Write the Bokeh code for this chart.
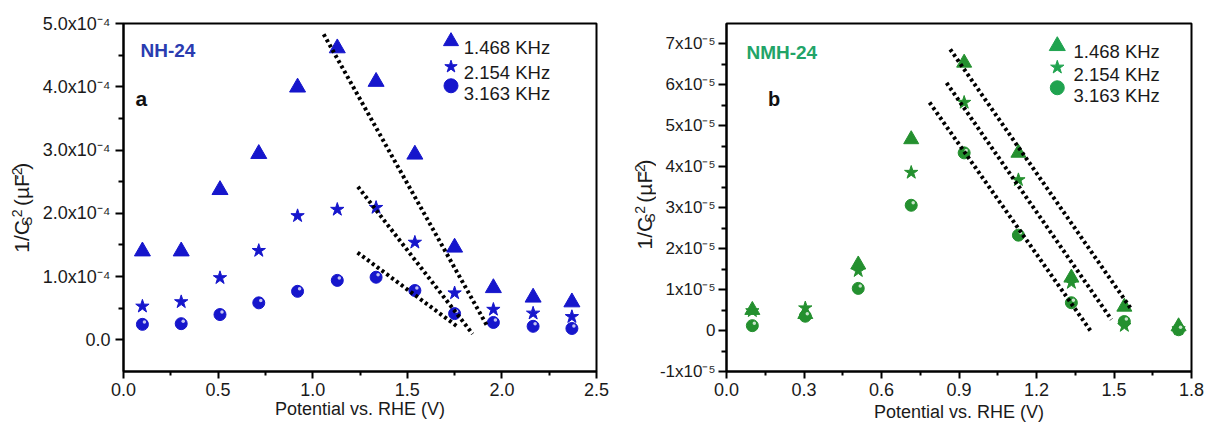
import math
from bokeh.plotting import figure
from bokeh.layouts import row
from bokeh.models import Range1d, FixedTicker, Label, CustomJSTickFormatter
from bokeh.embed import file_html
from bokeh.resources import INLINE

# ---------------- data ----------------
potential = [0.10, 0.305, 0.51, 0.715, 0.92, 1.13, 1.335, 1.54, 1.75, 1.955, 2.165, 2.37]

# panel a : NH-24
nh_1468 = [1.40e-4, 1.40e-4, 2.37e-4, 2.94e-4, 3.99e-4, 4.61e-4, 4.08e-4, 2.93e-4, 1.46e-4, 0.82e-4, 0.67e-4, 0.595e-4]
nh_2154 = [0.53e-4, 0.60e-4, 0.98e-4, 1.41e-4, 1.96e-4, 2.06e-4, 2.09e-4, 1.54e-4, 0.74e-4, 0.48e-4, 0.42e-4, 0.365e-4]
nh_3163 = [0.245e-4, 0.256e-4, 0.40e-4, 0.585e-4, 0.767e-4, 0.94e-4, 0.99e-4, 0.78e-4, 0.415e-4, 0.275e-4, 0.214e-4, 0.18e-4]

# panel b : NMH-24
potential_b = potential[:9]
nmh_1468 = [0.50e-5, 0.40e-5, 1.61e-5, 4.67e-5, 6.54e-5, 4.34e-5, 1.29e-5, 0.58e-5, 0.10e-5]
nmh_2154 = [0.48e-5, 0.55e-5, 1.46e-5, 3.86e-5, 5.57e-5, 3.68e-5, 1.17e-5, 0.12e-5, 0.04e-5]
nmh_3163 = [0.12e-5, 0.35e-5, 1.03e-5, 3.06e-5, 4.34e-5, 2.33e-5, 0.68e-5, 0.22e-5, 0.02e-5]

# Mott-Schottky fit lines (start/end)
fit_a_x0 = [1.058, 1.239, 1.237]
fit_a_y0 = [4.83e-4, 2.42e-4, 1.38e-4]
fit_a_x1 = [1.924, 1.845, 1.765]
fit_a_y1 = [0.21e-4, 0.094e-4, 0.21e-4]

fit_b_x0 = [0.866, 0.852, 0.786]
fit_b_y0 = [6.87e-5, 6.05e-5, 5.57e-5]
fit_b_x1 = [1.565, 1.490, 1.413]
fit_b_y1 = [0.54e-5, 0.27e-5, -0.04e-5]

freq_labels = ["1.468 KHz", "2.154 KHz", "3.163 KHz"]
x_title = "Potential vs. RHE (V)"

x_ticks_a = [0.0, 0.5, 1.0, 1.5, 2.0, 2.5]
x_tick_labels_a = ["0.0", "0.5", "1.0", "1.5", "2.0", "2.5"]
x_minor_a = [0.25, 0.75, 1.25, 1.75, 2.25]
y_ticks_a = [0.0, 1e-4, 2e-4, 3e-4, 4e-4, 5e-4]
y_tick_labels_a = ["0.0", "1.0x10\u207b\u2074", "2.0x10\u207b\u2074", "3.0x10\u207b\u2074",
                   "4.0x10\u207b\u2074", "5.0x10\u207b\u2074"]
y_minor_a = [0.5e-4, 1.5e-4, 2.5e-4, 3.5e-4, 4.5e-4]

x_ticks_b = [0.0, 0.3, 0.6, 0.9, 1.2, 1.5, 1.8]
x_tick_labels_b = ["0.0", "0.3", "0.6", "0.9", "1.2", "1.5", "1.8"]
x_minor_b = [0.15, 0.45, 0.75, 1.05, 1.35, 1.65]
y_ticks_b = [-1e-5, 0.0, 1e-5, 2e-5, 3e-5, 4e-5, 5e-5, 6e-5, 7e-5]
y_tick_labels_b = ["-1x10\u207b\u2075", "0", "1x10\u207b\u2075", "2x10\u207b\u2075", "3x10\u207b\u2075",
                   "4x10\u207b\u2075", "5x10\u207b\u2075", "6x10\u207b\u2075", "7x10\u207b\u2075"]
y_minor_b = [-0.5e-5, 0.5e-5, 1.5e-5, 2.5e-5, 3.5e-5, 4.5e-5, 5.5e-5, 6.5e-5]

# y-axis title pieces: (text, font px, baseline shift px; + = lowered, - = raised)
y_title_pieces = [("1/C", 21, 0), ("S", 14, 2.5), ("_gap", 1.5, 0), ("2", 14, -7.5), (" ", 21, 0),
                  ("(µF", 21, 0), ("-2", 14, -7.5), (")", 21, 0)]

FONT = "Liberation Sans"
TXT = "#1a1a1a"
BLUE = "#1616cc"
GREEN = "#24902f"
GREEN_LEG = "#1fa34f"
PAGE_H = 425

ARIAL = {c: 556 for c in "0123456789"}
ARIAL.update({'.': 278, 'x': 500, '-': 333, '/': 278, 'C': 722, 'S': 667, ' ': 278,
              '(': 333, ')': 333, 'µ': 576, 'F': 611})


def tw(s, size):
    return sum(ARIAL.get(c, 556) for c in s) * size / 1000.0


class Geom:
    """Frame geometry in page pixels; ox = page x of the figure's left edge."""
    def __init__(self, ox, W, H, L, R, T, B, xr, yr):
        self.ox, self.W, self.H, self.L, self.R, self.T, self.B = ox, W, H, L, R, T, B
        self.xr, self.yr = xr, yr

    def x(self, px):
        return self.xr[0] + (px - self.L) / (self.R - self.L) * (self.xr[1] - self.xr[0])

    def y(self, py):
        return self.yr[1] - (py - self.T) / (self.B - self.T) * (self.yr[1] - self.yr[0])

    def dx(self, dpx):
        return dpx / (self.R - self.L) * (self.xr[1] - self.xr[0])

    def dy(self, dpy):
        return dpy / (self.B - self.T) * (self.yr[1] - self.yr[0])


def tick_fmt(tvals, tlabels):
    return CustomJSTickFormatter(args=dict(tvals=tvals, tlabels=tlabels), code="""
        let best = -1, bd = Infinity;
        for (let i = 0; i < tvals.length; i++) {
            const d = Math.abs(tvals[i] - tick);
            if (d < bd) { bd = d; best = i; }
        }
        const scale = Math.max(Math.abs(tvals[tvals.length - 1]), Math.abs(tvals[0]), 1e-30);
        return (best >= 0 && bd <= 1e-6 * scale) ? tlabels[best] : '';
    """)


def make_fig(g, xt, xl, xm, yt, yl, ym, ylab_size, ylab_standoff, xlab_standoff):
    p = figure(width=g.W, height=g.H, x_range=Range1d(*g.xr), y_range=Range1d(*g.yr),
               output_backend="svg", toolbar_location=None,
               min_border_left=g.L - g.ox, min_border_right=g.ox + g.W - g.R,
               min_border_top=g.T, min_border_bottom=g.H - g.B)
    p.xgrid.visible = False
    p.ygrid.visible = False
    p.outline_line_color = "black"
    p.outline_line_width = 2
    p.outline_line_alpha = 1
    p.background_fill_color = "white"
    p.border_fill_color = "white"
    for ax in (p.xaxis[0], p.yaxis[0]):
        ax.axis_line_width = 2
        ax.axis_line_color = "black"
        ax.major_tick_line_width = 2
        ax.minor_tick_line_width = 2
        ax.major_tick_line_color = "black"
        ax.minor_tick_line_color = "black"
        ax.major_tick_in = 0
        ax.minor_tick_in = 0
        ax.major_label_text_font = FONT
        ax.major_label_text_color = TXT
    p.xaxis.major_tick_out = 7
    p.xaxis.minor_tick_out = 4
    p.yaxis.major_tick_out = 8
    p.yaxis.minor_tick_out = 5
    p.xaxis.ticker = FixedTicker(ticks=xt, minor_ticks=xm)
    p.yaxis.ticker = FixedTicker(ticks=yt, minor_ticks=ym)
    p.xaxis.formatter = tick_fmt(xt, xl)
    p.yaxis.formatter = tick_fmt(yt, yl)
    p.xaxis.major_label_text_font_size = "18px"
    p.xaxis.major_label_standoff = 4
    p.yaxis.major_label_text_font_size = ylab_size
    p.yaxis.major_label_standoff = ylab_standoff
    p.xaxis.axis_label = x_title
    p.xaxis.axis_label_text_font = FONT
    p.xaxis.axis_label_text_font_size = "18px"
    p.xaxis.axis_label_text_font_style = "normal"
    p.xaxis.axis_label_text_color = TXT
    p.xaxis.axis_label_standoff = xlab_standoff
    return p


def lab(p, g, px, py, text, size, color=TXT, align="left", style="normal", angle=0.0):
    p.add_layout(Label(x=g.x(px), y=g.y(py), text=text, text_font=FONT,
                       text_font_size=f"{size}px", text_color=color, text_align=align,
                       text_baseline="alphabetic", text_font_style=style, angle=angle))


def title_strip(W, xb, start_py):
    """A narrow figure (whole canvas = frame) holding the rotated y-axis title.
    xb = x of the main text baseline; glyphs are centred with text_baseline='middle'."""
    s = figure(width=W, height=PAGE_H, x_range=Range1d(0, W), y_range=Range1d(0, PAGE_H),
               output_backend="svg", toolbar_location=None, min_border=0,
               x_axis_location=None, y_axis_location=None)
    s.xgrid.visible = False
    s.ygrid.visible = False
    s.outline_line_color = None
    s.background_fill_color = "white"
    s.border_fill_color = "white"
    py = start_py
    for t, sz, shift in y_title_pieces:
        if t == "_gap":
            py -= sz
            continue
        if t.strip():
            ax = xb + shift - 0.35 * sz
            s.add_layout(Label(x=ax, y=PAGE_H - py, text=t, text_font=FONT,
                               text_font_size=f"{sz}px", text_color=TXT, text_align="left",
                               text_baseline="middle", angle=math.pi / 2))
        py -= tw(t, sz)
    return s


def spheres(p, g, xs, ys, size, color):
    p.scatter(xs, ys, marker="circle", size=size, fill_color=color, line_color=color)
    hx = [x + g.dx(2.0) for x in xs]
    hy = [y + g.dy(2.5) for y in ys]
    p.scatter(hx, hy, marker="circle", size=3.5, fill_color="white", fill_alpha=0.75, line_color=None)


# ---------------- panel a ----------------
ta = title_strip(36, 28.5, 280)
ga = Geom(36, 594, PAGE_H, 123, 596, 23, 375, (0.0, 2.5), (-0.5e-4, 5e-4))
pa = make_fig(ga, x_ticks_a, x_tick_labels_a, x_minor_a, y_ticks_a, y_tick_labels_a, y_minor_a,
              "18px", 5, 0)

pa.scatter(potential, nh_1468, marker="triangle", size=16, fill_color=BLUE, line_color=BLUE)
pa.scatter(potential, nh_2154, marker="star", size=14, fill_color=BLUE, line_color=BLUE)
spheres(pa, ga, potential, nh_3163, 12, BLUE)
pa.segment(fit_a_x0, fit_a_y0, fit_a_x1, fit_a_y1, line_color="black", line_width=4,
           line_dash="3 3", line_cap="butt")

lab(pa, ga, 140, 50, "NH-24", 19, color="#2a3cb0", style="bold")
lab(pa, ga, 135, 99.3, "a", 21, color="#111111", style="bold")

leg_mk_a = [("triangle", 15, 41.0), ("star", 13, 66.7), ("circle", 14, 86.0)]
leg_tx_a = [47.0, 73.0, 94.0]
for (mk, sz, cy), ty, t in zip(leg_mk_a, leg_tx_a, freq_labels):
    pa.scatter([ga.x(450.5)], [ga.y(cy)], marker=mk, size=sz, fill_color=BLUE, line_color=BLUE)
    lab(pa, ga, 463.3, ty, t, 18.5)

# ---------------- panel b ----------------
tb = title_strip(26, 21.5, 276)
gb = Geom(656, 551, PAGE_H, 725, 1191, 19, 371, (0.0, 1.8), (-1e-5, 7.5e-5))
pb = make_fig(gb, x_ticks_b, x_tick_labels_b, x_minor_b, y_ticks_b, y_tick_labels_b, y_minor_b,
              "17px", 3, 3)

pb.scatter(potential_b, nmh_1468, marker="triangle", size=15, fill_color=GREEN, line_color=GREEN)
pb.scatter(potential_b, nmh_2154, marker="star", size=14, fill_color=GREEN, line_color=GREEN)
spheres(pb, gb, potential_b, nmh_3163, 12, GREEN)
pb.segment(fit_b_x0, fit_b_y0, fit_b_x1, fit_b_y1, line_color="black", line_width=4,
           line_dash="3 3", line_cap="butt")

lab(pb, gb, 745, 48.3, "NMH-24", 19, color="#22a468", style="bold")
lab(pb, gb, 766.7, 95, "b", 20, color="#111111", style="bold")

leg_mk_b = [("triangle", 16, 41.7), ("star", 14, 63.3), ("circle", 14, 84.0)]
leg_tx_b = [47.3, 70.7, 91.7]
for (mk, sz, cy), ty, t in zip(leg_mk_b, leg_tx_b, freq_labels):
    pb.scatter([gb.x(1056.5)], [gb.y(cy)], marker=mk, size=sz, fill_color=GREEN_LEG, line_color=GREEN_LEG)
    lab(pb, gb, 1072.7, ty, t, 18.5)

layout = row(ta, pa, tb, pb, spacing=0)
open("out.html", "w").write(file_html(layout, INLINE))
